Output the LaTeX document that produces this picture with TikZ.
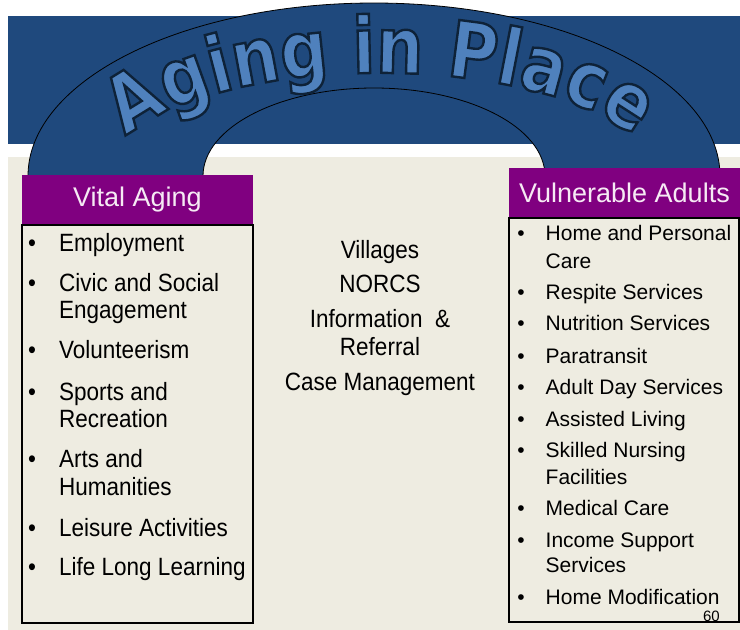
\documentclass[tikz,border=0pt]{standalone}
\usepackage{fontspec}
\setmainfont{Liberation Sans}
\newfontfamily\itemfont[FakeStretch=0.9]{Liberation Sans}
\newfontfamily\titlefont[FakeStretch=0.85]{DejaVu Sans Bold}
\usetikzlibrary{decorations.text}

\definecolor{bandblue}{HTML}{1F497D}
\definecolor{letterblue}{HTML}{4F81BD}
\definecolor{plum}{HTML}{800080}
\definecolor{paper}{HTML}{EEECE1}
\definecolor{headtext}{HTML}{F6EAF4}

% filled letters with a dark rim (text render mode 2)
\newcommand\rimmed{\special{pdf:literal direct 2 Tr 0.055 0.133 0.22 RG 2.4 w}}

\tikzset{
	listbox/.style={draw=black, line width=1.2pt, fill=paper},
	headbox/.style={fill=plum, text=headtext, minimum height=50pt, inner sep=0pt,
		font=\fontsize{27}{30}\selectfont},
	lefttext/.style={anchor=base west, inner sep=0pt, font=\itemfont\fontsize{25}{27}\selectfont},
	righttext/.style={anchor=base west, inner sep=0pt, font=\fontsize{21}{27}\selectfont},
	midtext/.style={anchor=base, inner sep=0pt, font=\itemfont\fontsize{25}{27}\selectfont},
	bulletmark/.style={anchor=base, inner sep=0pt},
	titleline/.style={decorate, decoration={text along path, text align=center,
		text={|\titlefont\fontsize{78}{82}\selectfont\color{letterblue}\rimmed|Aging in Place}}},
}

\begin{document}
\begin{tikzpicture}[x=1pt, y=-1pt]
	\useasboundingbox (0,0) rectangle (740,630);
	% blue band and the page below it
	\fill[bandblue] (8,16) rectangle (740,144);
	\fill[paper] (8,157) rectangle (740,630);
	% the arch
	\filldraw[fill=bandblue, draw=black, line width=0.8pt]
		(28,176) arc[start angle=180, end angle=360, x radius=346, y radius=173]
		-- (545,176) arc[start angle=0, end angle=-180, x radius=171, y radius=88] -- cycle;
	% title on the arch
	\path[titleline]
		(107,176) arc[start angle=180, end angle=360, x radius=273, y radius=103];

	% headings
	\node[headbox, minimum width=231pt] (vital) at (137.5,200) {Vital Aging};
	\node[headbox, minimum width=231pt] (vulnerable) at (624.5,193) {Vulnerable Adults};

	% lists
	\draw[listbox] (22,225) rectangle (253,623);
	\draw[listbox] (509,218) rectangle (739,622);

	\foreach \y/\txt [count=\i] in {251/Employment, 291.7/Civic and Social, 318.3/Engagement,
			358/Volunteerism, 400.7/Sports and, 427.7/Recreation, 467.3/Arts and,
			495/Humanities, 536.7/Leisure Activities, 575/Life Long Learning}
		\node[lefttext] (vital-\i) at (59,\y) {\txt};
	\foreach \y [count=\i] in {251, 291.7, 358, 400.7, 467.3, 536.7, 575}
		\node[bulletmark, font=\itemfont\fontsize{25}{27}\selectfont] (vital-dot-\i) at (32,\y) {\textbullet};

	\foreach \y/\txt [count=\i] in {240.7/Home and Personal, 268.3/Care, 299/Respite Services,
			330.7/Nutrition Services, 363.3/Paratransit, 394/Adult Day Services,
			426.7/Assisted Living, 457.7/Skilled Nursing, 484/Facilities, 515/Medical Care,
			547.3/Income Support, 572.3/Services, 604/Home Modification}
		\node[righttext] (vuln-\i) at (545.5,\y) {\txt};
	\foreach \y [count=\i] in {240.7, 299, 330.7, 363.3, 394, 426.7, 457.7, 515, 547.3, 604}
		\node[bulletmark, font=\fontsize{21}{27}\selectfont] (vuln-dot-\i) at (521,\y) {\textbullet};

	% middle column
	\foreach \y/\txt [count=\i] in {258.3/Villages, 292.7/NORCS, 327.3/Information~~\&,
			355.7/Referral, 390/Case Management}
		\node[midtext] (hub-\i) at (380,\y) {\txt};

	\node[anchor=base east, inner sep=0pt, font=\fontsize{15}{16}\selectfont] (pageno) at (720,621.5) {60};
\end{tikzpicture}
\end{document}
